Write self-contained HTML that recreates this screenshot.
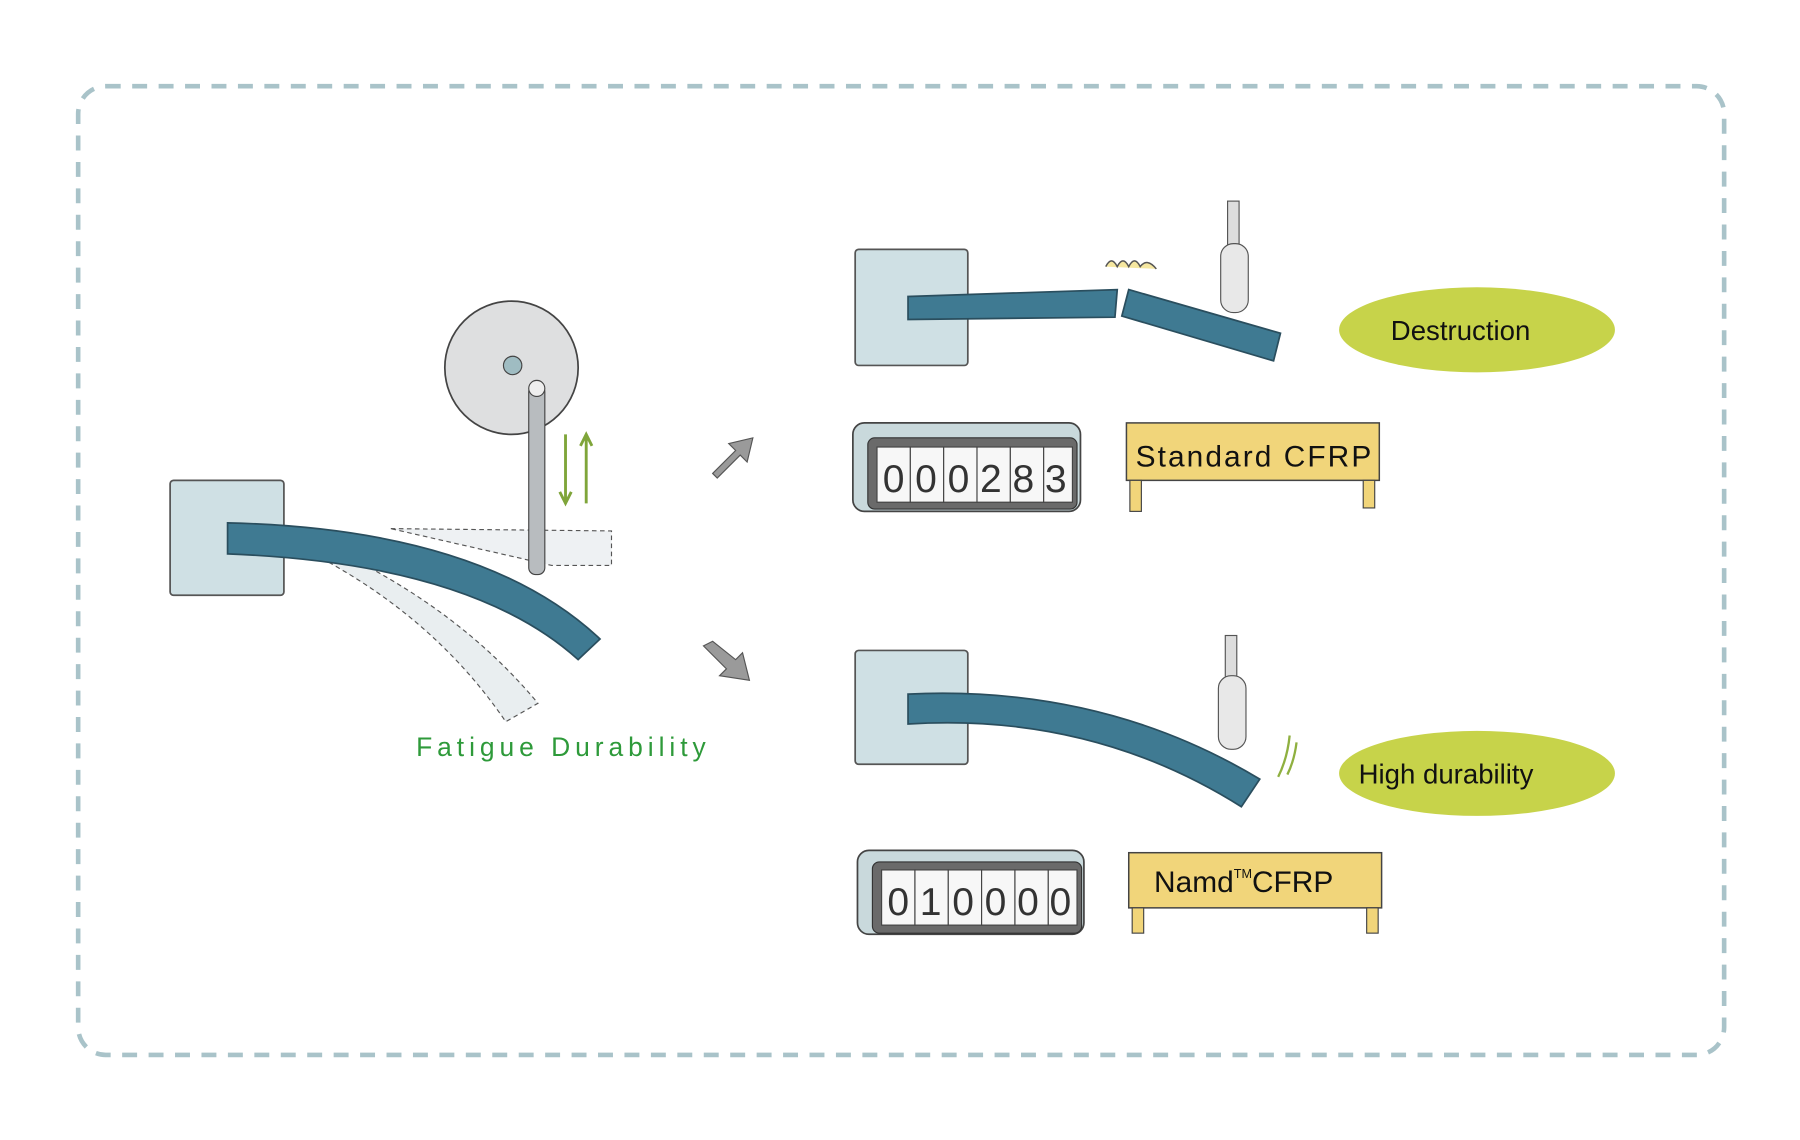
<!DOCTYPE html>
<html><head><meta charset="utf-8"><style>
html,body{margin:0;padding:0;background:#fff;}
svg{display:block}
text{font-family:"Liberation Sans",sans-serif;}
</style></head><body>
<svg width="1800" height="1140" viewBox="0 0 1566 992" preserveAspectRatio="none" xmlns="http://www.w3.org/2000/svg">
<rect x="68" y="75" width="1432" height="843" rx="24" fill="none" stroke="#a9c3c9" stroke-width="4" stroke-dasharray="13 10"/>

<!-- Left apparatus -->
<path d="M340 460 L532 462 L532 492 L480 492 Z" fill="#eef1f3" stroke="#555" stroke-width="1" stroke-dasharray="4 3"/>
<path d="M290 478 Q400 530 468 612 L440 628 Q380 540 280 486 Z" fill="#e9eef0" stroke="#555" stroke-width="1" stroke-dasharray="4 3"/>
<rect x="148" y="418" width="99" height="100" rx="3" fill="#cfe0e4" stroke="#555" stroke-width="1.5"/>
<path d="M198 455 Q420 460 522 556 L503 574 Q410 490 198 482 Z" fill="#3f7a92" stroke="#2a4e5e" stroke-width="1.5"/>
<circle cx="445" cy="320" r="58" fill="#dedfe0" stroke="#444" stroke-width="1.5"/>
<circle cx="446" cy="318" r="8" fill="#9fbcc2" stroke="#444"/>
<rect x="460" y="335" width="14" height="165" rx="6" fill="#b8bcbf" stroke="#444"/>
<circle cx="467" cy="338" r="7" fill="#eee" stroke="#444"/>
<path d="M492 378 V436 M487 428 L492 438 L497 428" stroke="#7fa53a" stroke-width="2.5" fill="none"/>
<path d="M510 438 V380 M505 388 L510 378 L515 388" stroke="#7fa53a" stroke-width="2.5" fill="none"/>
<text x="362" y="658" font-size="23" fill="#2e9a3a" textLength="252">Fatigue Durability</text>

<!-- arrows -->
<path d="M620 412 L640 392 L634 386 L655 381 L650 402 L644 396 L624 416 Z" fill="#9a9a9a" stroke="#555"/>
<path d="M612 562 L632 582 L626 588 L652 592 L646 568 L640 574 L620 558 Z" fill="#9a9a9a" stroke="#555"/>

<!-- Top result -->
<rect x="744" y="217" width="98" height="101" rx="3" fill="#cfe0e4" stroke="#555" stroke-width="1.5"/>
<path d="M790 258 L972 252 L970 276 L790 278 Z" fill="#3f7a92" stroke="#2a4e5e" stroke-width="1.5"/>
<path d="M982 252 L1114 290 L1108 314 L976 275 Z" fill="#3f7a92" stroke="#2a4e5e" stroke-width="1.5"/>
<rect x="1068" y="175" width="10" height="45" fill="#ddd" stroke="#555"/>
<rect x="1062" y="212" width="24" height="60" rx="11" fill="#e8e8e8" stroke="#555"/>
<path d="M962 232 q5 -10 10 0 q5 -10 10 0 q5 -10 10 0 q6 -8 14 2" stroke="#555" fill="#f5e7a0" stroke-width="1.3"/>
<ellipse cx="1285" cy="287" rx="120" ry="37" fill="#c7d34a"/>
<text x="1210" y="296" font-size="24" fill="#111">Destruction</text>

<rect x="742" y="368" width="198" height="77" rx="10" fill="#c9d9dc" stroke="#444" stroke-width="1.5"/>
<rect x="755" y="381" width="182" height="62" rx="6" fill="#6a6a6a" stroke="#333"/>
<g fill="#f7f7f7" stroke="#444">
<rect x="763" y="389" width="29" height="48"/><rect x="792" y="389" width="29" height="48"/><rect x="821" y="389" width="29" height="48"/>
<rect x="850" y="389" width="29" height="48"/><rect x="879" y="389" width="29" height="48"/><rect x="908" y="389" width="25" height="48"/>
</g>
<text x="768" y="428" font-size="34" fill="#333" font-family="Liberation Mono" textLength="160" lengthAdjust="spacing">000283</text>

<rect x="980" y="368" width="220" height="50" fill="#f1d57a" stroke="#444" stroke-width="1.3"/>
<rect x="983" y="418" width="10" height="27" fill="#f1d57a" stroke="#444"/>
<rect x="1186" y="418" width="10" height="24" fill="#f1d57a" stroke="#444"/>
<text x="988" y="406" font-size="26" fill="#111" textLength="205">Standard CFRP</text>

<!-- Bottom result -->
<rect x="744" y="566" width="98" height="99" rx="3" fill="#cfe0e4" stroke="#555" stroke-width="1.5"/>
<path d="M790 604 Q960 596 1096 678 L1080 702 Q950 620 790 630 Z" fill="#3f7a92" stroke="#2a4e5e" stroke-width="1.5"/>
<rect x="1066" y="553" width="10" height="40" fill="#ddd" stroke="#555"/>
<rect x="1060" y="588" width="24" height="64" rx="11" fill="#e8e8e8" stroke="#555"/>
<path d="M1122 640 Q1120 660 1112 676 M1128 646 Q1126 662 1120 674" stroke="#8fb040" stroke-width="2" fill="none"/>
<ellipse cx="1285" cy="673" rx="120" ry="37" fill="#c7d34a"/>
<text x="1182" y="682" font-size="24" fill="#111">High durability</text>

<rect x="746" y="740" width="197" height="73" rx="10" fill="#c9d9dc" stroke="#444" stroke-width="1.5"/>
<rect x="759" y="750" width="182" height="62" rx="6" fill="#6a6a6a" stroke="#333"/>
<g fill="#f7f7f7" stroke="#444">
<rect x="767" y="757" width="29" height="48"/><rect x="796" y="757" width="29" height="48"/><rect x="825" y="757" width="29" height="48"/>
<rect x="854" y="757" width="29" height="48"/><rect x="883" y="757" width="29" height="48"/><rect x="912" y="757" width="25" height="48"/>
</g>
<text x="772" y="796" font-size="34" fill="#333" font-family="Liberation Mono" textLength="160" lengthAdjust="spacing">010000</text>

<rect x="982" y="742" width="220" height="48" fill="#f1d57a" stroke="#444" stroke-width="1.3"/>
<rect x="985" y="790" width="10" height="22" fill="#f1d57a" stroke="#444"/>
<rect x="1189" y="790" width="10" height="22" fill="#f1d57a" stroke="#444"/>
<text x="1004" y="776" font-size="26" fill="#111">Namd<tspan font-size="11" dy="-12">TM</tspan><tspan dy="12">CFRP</tspan></text>
</svg>
</body></html>
